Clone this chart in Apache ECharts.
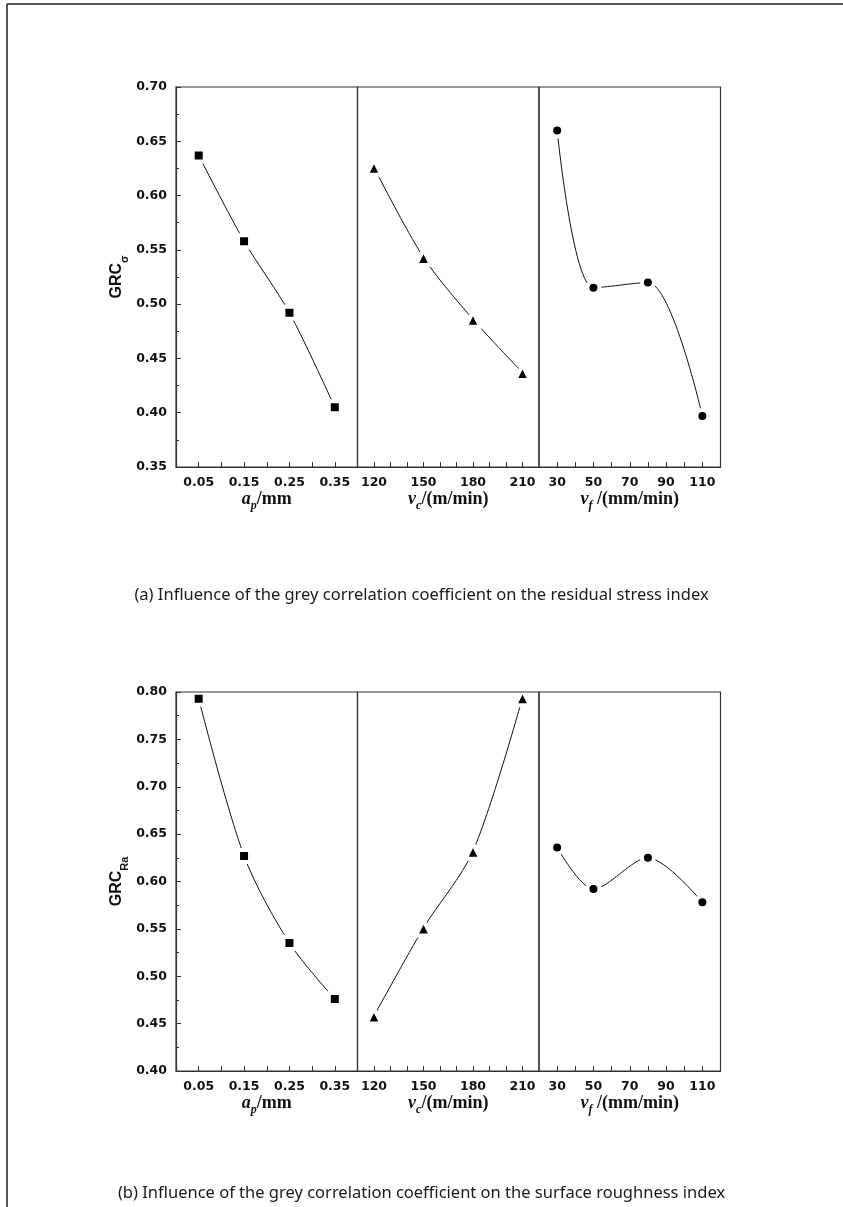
<!DOCTYPE html>
<html>
<head>
<meta charset="utf-8">
<script src="https://cdn.jsdelivr.net/npm/echarts@6/dist/echarts.min.js"></script>
<style>
  html, body { margin: 0; padding: 0; background: #fff; }
  #chart { width: 843px; height: 1207px; }
</style>
</head>
<body>
<div id="chart"></div>
<script>
// factor levels (x positions of the points)
const depthLevels = [0.05, 0.15, 0.25, 0.35]
const speedLevels = [120, 150, 180, 210]
const feedLevels = [30, 50, 80, 110]

// (a) grey correlation coefficient, residual stress
const stressDepth = [0.637, 0.558, 0.492, 0.405]
const stressSpeed = [0.626, 0.543, 0.486, 0.437]
const stressFeed = [0.660, 0.515, 0.520, 0.397]

// (b) grey correlation coefficient, surface roughness
const roughDepth = [0.793, 0.627, 0.535, 0.476]
const roughSpeed = [0.458, 0.551, 0.632, 0.794]
const roughFeed = [0.636, 0.592, 0.625, 0.578]

// tick labels and tick marks
const depthLabels = [0.05, 0.15, 0.25, 0.35]
const depthTicks = [0.05, 0.1, 0.15, 0.2, 0.25, 0.3, 0.35]
const speedLabels = [120, 150, 180, 210]
const speedTicks = [120, 130, 140, 150, 160, 170, 180, 190, 200, 210]
const feedLabels = [30, 50, 70, 90, 110]
const feedTicks = [30, 40, 50, 60, 70, 80, 90, 100, 110]

const captionA = '(a) Influence of the grey correlation coefficient on the residual stress index'
const captionB = '(b) Influence of the grey correlation coefficient on the surface roughness index'

const axisColor = '#333'
const tickFont = { fontFamily: 'DejaVu Sans', fontWeight: 'bold', fontSize: 12.5, color: '#111' }
const captionFont = { fontFamily: 'Noto Sans', fontWeight: 'normal', fontSize: 16.5, color: '#1a1a1a' }

const xNameRich = {
  v: { fontFamily: 'Liberation Serif', fontStyle: 'italic', fontWeight: 'bold', fontSize: 18, lineHeight: 20, verticalAlign: 'top', color: '#111' },
  s: { fontFamily: 'Liberation Serif', fontStyle: 'italic', fontWeight: 'bold', fontSize: 12, lineHeight: 12, padding: [10, 0, 0, 0], verticalAlign: 'top', color: '#111' },
  t: { fontFamily: 'Liberation Serif', fontWeight: 'bold', fontSize: 18, lineHeight: 20, verticalAlign: 'top', color: '#111' },
}
const yNameRich = {
  m: { fontFamily: 'Liberation Sans', fontWeight: 'bold', fontSize: 16, lineHeight: 18, verticalAlign: 'top', color: '#111' },
  s: { fontFamily: 'Liberation Sans', fontWeight: 'bold', fontSize: 11, lineHeight: 12, padding: [10, 0, 0, 0], verticalAlign: 'top', color: '#111' },
}

const panelLeft = [176, 357.5, 539]
const panelWidth = 181.5

const panels = [
  { levels: depthLevels, min: 0, max: 0.4, labels: depthLabels, ticks: depthTicks, digits: 2, symbol: 'rect', size: 12, name: '{v|a}{s|p}{t|/mm}' },
  { levels: speedLevels, min: 110, max: 220, labels: speedLabels, ticks: speedTicks, digits: 0, symbol: 'triangle', size: 15, name: '{v|v}{s|c}{t|/(m/min)}' },
  { levels: feedLevels, min: 20, max: 120, labels: feedLabels, ticks: feedTicks, digits: 0, symbol: 'circle', size: 12, name: '{v|v}{s|f}{t| /(mm/min)}' },
]

const charts = [
  { top: 87, height: 380, yMin: 0.35, yMax: 0.70, yName: '{m|GRC}{s|σ}', values: [stressDepth, stressSpeed, stressFeed] },
  { top: 692, height: 379, yMin: 0.40, yMax: 0.80, yName: '{m|GRC}{s|Ra}', values: [roughDepth, roughSpeed, roughFeed] },
]

const grid = []
const xAxis = []
const yAxis = []
const series = []

charts.forEach((c) => {
  panels.forEach((p, i) => {
    const idx = grid.length
    grid.push({
      left: panelLeft[i],
      top: c.top,
      width: panelWidth,
      height: c.height,
      show: true,
      borderColor: axisColor,
      borderWidth: 1.2,
      z: 5,
    })
    xAxis.push({
      type: 'value',
      gridIndex: idx,
      min: p.min,
      max: p.max,
      z: 5,
      splitLine: { show: false },
      axisLine: { lineStyle: { color: axisColor, width: 1.2 } },
      axisTick: { inside: true, length: 5, customValues: p.ticks, lineStyle: { color: axisColor } },
      axisLabel: { customValues: p.labels, margin: 9, formatter: (v) => v.toFixed(p.digits), ...tickFont },
      name: p.name,
      nameLocation: 'middle',
      nameGap: 23,
      nameTextStyle: { rich: xNameRich },
    })
    const yAx = {
      type: 'value',
      gridIndex: idx,
      min: c.yMin,
      max: c.yMax,
      interval: 0.05,
      z: 5,
      splitLine: { show: false },
    }
    if (i === 0) {
      Object.assign(yAx, {
        axisLine: { show: true, lineStyle: { color: axisColor, width: 1.2 } },
        axisTick: { inside: true, length: 5, lineStyle: { color: axisColor } },
        minorTick: { show: true, splitNumber: 2, length: 3, lineStyle: { color: axisColor } },
        axisLabel: { margin: 9, formatter: (v) => v.toFixed(2), ...tickFont },
        name: c.yName,
        nameLocation: 'middle',
        nameRotate: 90,
        nameGap: 49,
        nameTextStyle: { rich: yNameRich },
      })
    } else {
      Object.assign(yAx, {
        axisLine: { show: false },
        axisTick: { show: false },
        axisLabel: { show: false },
      })
    }
    yAxis.push(yAx)
    series.push({
      type: 'line',
      xAxisIndex: idx,
      yAxisIndex: idx,
      smooth: 0.3,
      symbol: p.symbol,
      symbolSize: p.size,
      showAllSymbol: true,
      lineStyle: { color: '#111', width: 1 },
      itemStyle: { color: '#000', borderColor: '#fff', borderWidth: 4, borderJoin: 'round' },
      data: p.levels.map((x, k) => [x, c.values[i][k]]),
    })
  })
})

const chart = echarts.init(document.getElementById('chart'))
chart.setOption({
  animation: false,
  backgroundColor: '#fff',
  title: [
    { text: captionA, left: 'center', top: 582, textStyle: captionFont },
    { text: captionB, left: 'center', top: 1180, textStyle: captionFont },
  ],
  graphic: [
    { type: 'line', shape: { x1: 7, y1: 4, x2: 843, y2: 4 }, style: { stroke: '#222', lineWidth: 1.5 } },
    { type: 'line', shape: { x1: 7, y1: 4, x2: 7, y2: 1207 }, style: { stroke: '#222', lineWidth: 1.5 } },
  ],
  grid,
  xAxis,
  yAxis,
  series,
})
</script>
</body>
</html>
